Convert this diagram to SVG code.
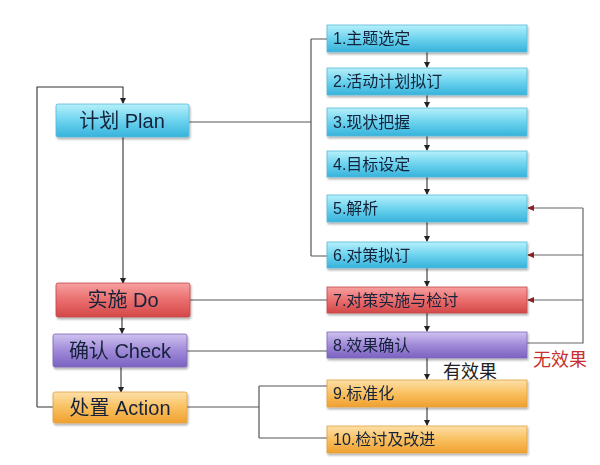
<svg xmlns="http://www.w3.org/2000/svg" width="600" height="465" viewBox="0 0 600 465">
<defs>
<linearGradient id="gc" x1="0" y1="0" x2="0" y2="1"><stop offset="0" stop-color="#b6f0fb"/><stop offset="0.5" stop-color="#6dd3ee"/><stop offset="1" stop-color="#36b3dc"/></linearGradient>
<linearGradient id="gr" x1="0" y1="0" x2="0" y2="1"><stop offset="0" stop-color="#f7a0a0"/><stop offset="0.5" stop-color="#ea6e6e"/><stop offset="1" stop-color="#d44848"/></linearGradient>
<linearGradient id="gp" x1="0" y1="0" x2="0" y2="1"><stop offset="0" stop-color="#cfc2f0"/><stop offset="0.5" stop-color="#a08ad8"/><stop offset="1" stop-color="#7b62c2"/></linearGradient>
<linearGradient id="go" x1="0" y1="0" x2="0" y2="1"><stop offset="0" stop-color="#fde0a8"/><stop offset="0.5" stop-color="#f9c060"/><stop offset="1" stop-color="#f0a030"/></linearGradient>
<filter id="sh" x="-5%" y="-20%" width="110%" height="150%"><feDropShadow dx="1" dy="2" stdDeviation="1.2" flood-color="#000" flood-opacity="0.3"/></filter>
<marker id="ah" markerWidth="6" markerHeight="6" refX="5" refY="3" orient="auto" markerUnits="userSpaceOnUse"><path d="M0,0 L6,3 L0,6 Z" fill="#222"/></marker>
<marker id="ahr" markerWidth="7" markerHeight="6" refX="6" refY="3" orient="auto" markerUnits="userSpaceOnUse"><path d="M0,0 L7,3 L0,6 Z" fill="#8a2020"/></marker>
</defs>
<style>
.box{filter:url(#sh);}
.c{fill:url(#gc);stroke:#5ab8d8;stroke-width:0.8}
.r{fill:url(#gr);stroke:#c04848;stroke-width:0.8}
.p{fill:url(#gp);stroke:#7a66b8;stroke-width:0.8}
.o{fill:url(#go);stroke:#e0a040;stroke-width:0.8}
.big{font-family:"Liberation Sans","Noto Sans CJK SC",sans-serif;font-size:20px;fill:#14233a;text-anchor:middle}
.sm{font-family:"Liberation Sans","Noto Sans CJK SC",sans-serif;font-size:16px;fill:#14233a}
.ln{fill:none;stroke:#555;stroke-width:1.2}
.ar{fill:none;stroke:#333;stroke-width:1.1;marker-end:url(#ah)}
.rl{fill:none;stroke:#666;stroke-width:1.2}
.ra{fill:none;stroke:#666;stroke-width:1.2;marker-end:url(#ahr)}
.lbl{font-family:"Liberation Sans","Noto Sans CJK SC",sans-serif;font-size:18px}
</style>
<g id="connectors">
<path class="ar" d="M37,407 V87 H123 V103"/>
<path class="ln" d="M37,407 H53"/>
<path class="ar" d="M123,137 V283"/>
<path class="ar" d="M122,317 V333"/>
<path class="ar" d="M121,367 V392"/>
<path class="ln" d="M189,122 H311 M311,39 V256 M311,39 H327 M311,256 H327"/>
<path class="ln" d="M190,300 H327"/>
<path class="ln" d="M187,351 H327"/>
<path class="ln" d="M187,407 H259 M259,386 V438 M259,386 H327 M259,438 H327"/>
<path class="ar" d="M427,52 V67"/>
<path class="ar" d="M427,95 V107"/>
<path class="ar" d="M427,136 V150"/>
<path class="ar" d="M427,177 V194"/>
<path class="ar" d="M427,222 V241"/>
<path class="ar" d="M427,268 V286"/>
<path class="ar" d="M427,313 V331"/>
<path class="ar" d="M427,358 V379"/>
<path class="ar" d="M427,407 V425"/>
<path class="rl" d="M527,343 H583 V208"/>
<path class="ra" d="M583,208 H528"/>
<path class="ra" d="M583,255 H528"/>
<path class="ra" d="M583,300 H528"/>
</g>
<g id="plan" class="box"><rect class="c" x="56" y="104" width="133" height="33" rx="2"/><text class="big" x="122" y="128">计划 Plan</text></g>
<g id="do" class="box"><rect class="r" x="56" y="283" width="134" height="34" rx="2"/><text class="big" x="123" y="307">实施 Do</text></g>
<g id="check" class="box"><rect class="p" x="53" y="334" width="134" height="33" rx="2"/><text class="big" x="120" y="358">确认 Check</text></g>
<g id="action" class="box"><rect class="o" x="53" y="392" width="134" height="31" rx="2"/><text class="big" x="120" y="415">处置 Action</text></g>
<g id="s1" class="box"><rect class="c" x="327" y="25" width="200" height="27"/><text class="sm" x="333" y="44">1.主题选定</text></g>
<g id="s2" class="box"><rect class="c" x="327" y="68" width="200" height="27"/><text class="sm" x="333" y="87">2.活动计划拟订</text></g>
<g id="s3" class="box"><rect class="c" x="327" y="108" width="200" height="28"/><text class="sm" x="333" y="128">3.现状把握</text></g>
<g id="s4" class="box"><rect class="c" x="327" y="151" width="200" height="26"/><text class="sm" x="333" y="170">4.目标设定</text></g>
<g id="s5" class="box"><rect class="c" x="327" y="195" width="200" height="27"/><text class="sm" x="333" y="214">5.解析</text></g>
<g id="s6" class="box"><rect class="c" x="327" y="242" width="200" height="26"/><text class="sm" x="333" y="261">6.对策拟订</text></g>
<g id="s7" class="box"><rect class="r" x="327" y="287" width="200" height="26"/><text class="sm" x="333" y="306">7.对策实施与检讨</text></g>
<g id="s8" class="box"><rect class="p" x="327" y="332" width="200" height="26"/><text class="sm" x="333" y="351">8.效果确认</text></g>
<g id="s9" class="box"><rect class="o" x="327" y="380" width="200" height="27"/><text class="sm" x="333" y="399">9.标准化</text></g>
<g id="s10" class="box"><rect class="o" x="327" y="426" width="200" height="27"/><text class="sm" x="333" y="445">10.检讨及改进</text></g>
<text class="lbl" x="533" y="366" fill="#c83030">无效果</text>
<text class="lbl" x="443" y="378" fill="#222">有效果</text>
</svg>
